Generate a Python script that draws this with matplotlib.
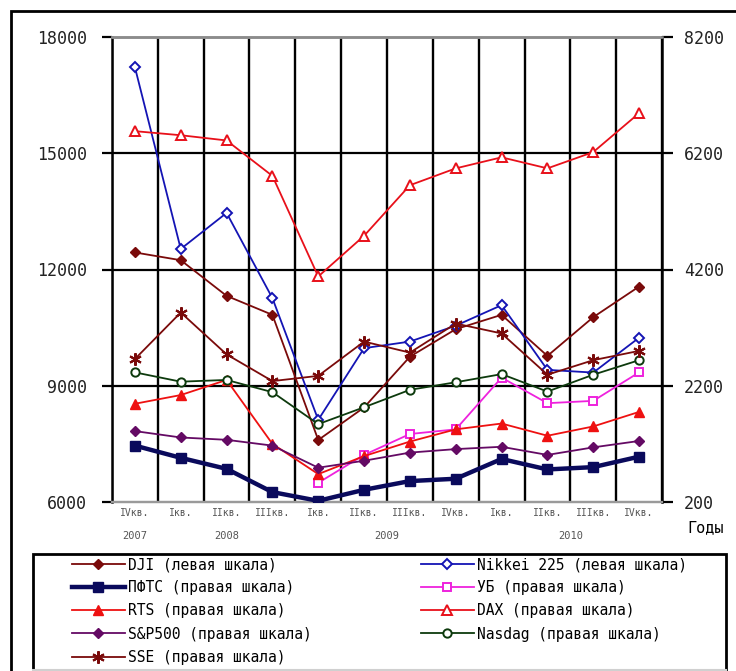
import numpy as np
import matplotlib
matplotlib.use("Agg")
import matplotlib.pyplot as plt
from matplotlib.patches import Rectangle
from matplotlib.lines import Line2D
from matplotlib.transforms import blended_transform_factory

# ---- data -------------------------------------------------------------
quarters = ["IVкв.", "Iкв.", "IIкв.", "IIIкв.", "Iкв.", "IIкв.", "IIIкв.",
            "IVкв.", "Iкв.", "IIкв.", "IIIкв.", "IVкв."]
years = ["2007", "2008", "2009", "2010"]
year_pos = [0, 2, 5.5, 9.5]

left_ticks = [6000, 9000, 12000, 15000, 18000]
right_ticks = [200, 2200, 4200, 6200, 8200]

dji = [12440, 12240, 11320, 10830, 7600, 8440, 9750, 10460, 10830, 9770, 10770, 11560]
nikkei = [17220, 12530, 13460, 11260, 8120, 9970, 10140, 10550, 11080, 9410, 9340, 10240]
pfts = [1170, 960, 770, 370, 220, 410, 560, 600, 940, 760, 800, 980]
ub = [np.nan, np.nan, np.nan, np.nan, 530, 1010, 1370, 1450, 2340, 1900, 1940, 2430]
rts = [1890, 2040, 2300, 1200, 680, 990, 1240, 1450, 1550, 1340, 1500, 1750]
dax = [6580, 6510, 6420, 5810, 4080, 4780, 5650, 5940, 6130, 5940, 6220, 6890]
sp500 = [1420, 1310, 1270, 1170, 790, 910, 1050, 1110, 1150, 1010, 1140, 1250]
nasdaq = [2430, 2270, 2300, 2090, 1540, 1830, 2130, 2260, 2400, 2100, 2390, 2640]
sse = [2660, 3460, 2740, 2280, 2370, 2960, 2770, 3270, 3100, 2390, 2640, 2800]

FONT = "DejaVu Sans Mono"
plt.rcParams["font.family"] = [FONT, "DejaVu Sans"]

W, H = 736, 671
fig = plt.figure(figsize=(W / 100, H / 100), dpi=100)

def fx(px):
    return px / W

def fy(py):
    return 1 - py / H

ax = fig.add_axes([fx(112), fy(502), fx(662) - fx(112), fy(37) - fy(502)])
ax2 = ax.twinx()

x = np.arange(len(quarters))

# ---- axes, grid --------------------------------------------------------
ax.set_xlim(-0.5, len(quarters) - 0.5)
ax.set_ylim(6000, 18000)
ax2.set_ylim(200, 8200)
ax.set_axisbelow(True)

ax.set_yticks(left_ticks)
ax.set_yticklabels([str(t) for t in left_ticks], fontsize=12, color="#222222")
ax2.set_yticks(right_ticks)
ax2.set_yticklabels([str(t) for t in right_ticks], fontsize=12, color="#222222")
ax.tick_params(axis="y", direction="out", length=7, width=1.6, pad=11, color="black")
ax2.tick_params(axis="y", direction="out", length=8, width=1.6, pad=8, color="black")

ax.set_xticks(x)
ax.set_xticklabels(quarters, fontsize=7, color="#555555")
ax.tick_params(axis="x", which="major", length=0, pad=4)
ax.set_xticks(np.arange(-0.5, len(quarters) + 0.5, 1.0), minor=True)
ax.tick_params(axis="x", which="minor", length=0)

ax.grid(axis="x", which="minor", color="black", lw=1.7)
ax.grid(axis="y", which="major", color="black", lw=1.6)
for gl, t in zip(ax.yaxis.get_gridlines(), left_ticks):
    if t in (left_ticks[0], left_ticks[-1]):
        gl.set_visible(False)

for a in (ax, ax2):
    a.spines["top"].set_color("#8c8c8c")
    a.spines["bottom"].set_color("#9a9a9a")
    a.spines["top"].set_linewidth(1.8)
    a.spines["bottom"].set_linewidth(1.6)
ax.spines["left"].set_linewidth(1.8)
ax2.spines["right"].set_linewidth(1.8)
ax.spines["right"].set_visible(False)
ax2.spines["left"].set_visible(False)

# ---- series ------------------------------------------------------------
lw = 1.3
l_dji, = ax.plot(x, dji, color="#7a0a0a", lw=lw, marker="D", ms=5.5,
                 mfc="#7a0a0a", mec="#7a0a0a", label="DJI (левая шкала)", zorder=3)
l_nik, = ax.plot(x, nikkei, color="#1414b4", lw=lw, marker="D", ms=5.5,
                 mfc="white", mec="#1414b4", mew=1.4, label="Nikkei 225 (левая шкала)", zorder=3)
l_pfts, = ax2.plot(x, pfts, color="#0a0a5c", lw=3.2, marker="s", ms=6.5,
                   mfc="#0a0a5c", mec="#0a0a5c", label="ПФТС (правая шкала)", zorder=3)
l_ub, = ax2.plot(x, ub, color="#ee22dd", lw=lw, marker="s", ms=6,
                 mfc="white", mec="#ee22dd", mew=1.4, label="УБ (правая шкала)", zorder=3)
l_rts, = ax2.plot(x, rts, color="#ee1111", lw=lw, marker="^", ms=7,
                  mfc="#ee1111", mec="#ee1111", label="RTS (правая шкала)", zorder=3)
l_dax, = ax2.plot(x, dax, color="#e8101a", lw=lw, marker="^", ms=7,
                  mfc="white", mec="#e8101a", mew=1.4, label="DAX (правая шкала)", zorder=3)
l_sp, = ax2.plot(x, sp500, color="#640a64", lw=lw, marker="D", ms=5.5,
                 mfc="#640a64", mec="#640a64", label="S&P500 (правая шкала)", zorder=3)
l_nas, = ax2.plot(x, nasdaq, color="#0d3a0d", lw=lw, marker="o", ms=6,
                  mfc="white", mec="#0d3a0d", mew=1.4, label="Nasdag (правая шкала)", zorder=3)
l_sse, = ax2.plot(x, sse, color="#7a0a0a", lw=lw, marker=(6, 2, 0), ms=9,
                  mec="#7a0a0a", mew=1.5, label="SSE (правая шкала)", zorder=3)

# ---- year labels and axis caption -------------------------------------
ytrans = blended_transform_factory(ax.transData, fig.transFigure)
for yr, p in zip(years, year_pos):
    ax.text(p, fy(536), yr, transform=ytrans, ha="center", va="center",
            fontsize=7.5, color="#555555")
fig.text(fx(706), fy(528), "Годы", ha="center", va="center", fontsize=11, color="black")

# ---- frames ------------------------------------------------------------
fig.patches.append(Rectangle((fx(11), fy(700)), fx(760) - fx(11), fy(11) - fy(700),
                             transform=fig.transFigure, fill=False, lw=2, ec="black"))
fig.patches.append(Rectangle((fx(33), fy(700)), fx(726) - fx(33), fy(554) - fy(700),
                             transform=fig.transFigure, fill=False, lw=2, ec="black"))
fig.add_artist(Line2D([fx(33), fx(726)], [fy(670), fy(670)], transform=fig.transFigure,
                      color="#d0d0d0", lw=1.5))

# ---- legend (two columns) ---------------------------------------------
col1 = [l_dji, l_pfts, l_rts, l_sp, l_sse]
col2 = [l_nik, l_ub, l_dax, l_nas]
leg_kw = dict(loc="upper left", frameon=False, borderpad=0, borderaxespad=0,
              handlelength=3.6, handletextpad=0.25, labelspacing=0.56,
              fontsize=10.5, numpoints=1, bbox_transform=fig.transFigure)
leg1 = fig.legend(col1, [h.get_label() for h in col1],
                  bbox_to_anchor=(fx(72), fy(557)), **leg_kw)
leg2 = fig.legend(col2, [h.get_label() for h in col2],
                  bbox_to_anchor=(fx(421), fy(557)), **leg_kw)

fig.savefig("out.png", dpi=100)
